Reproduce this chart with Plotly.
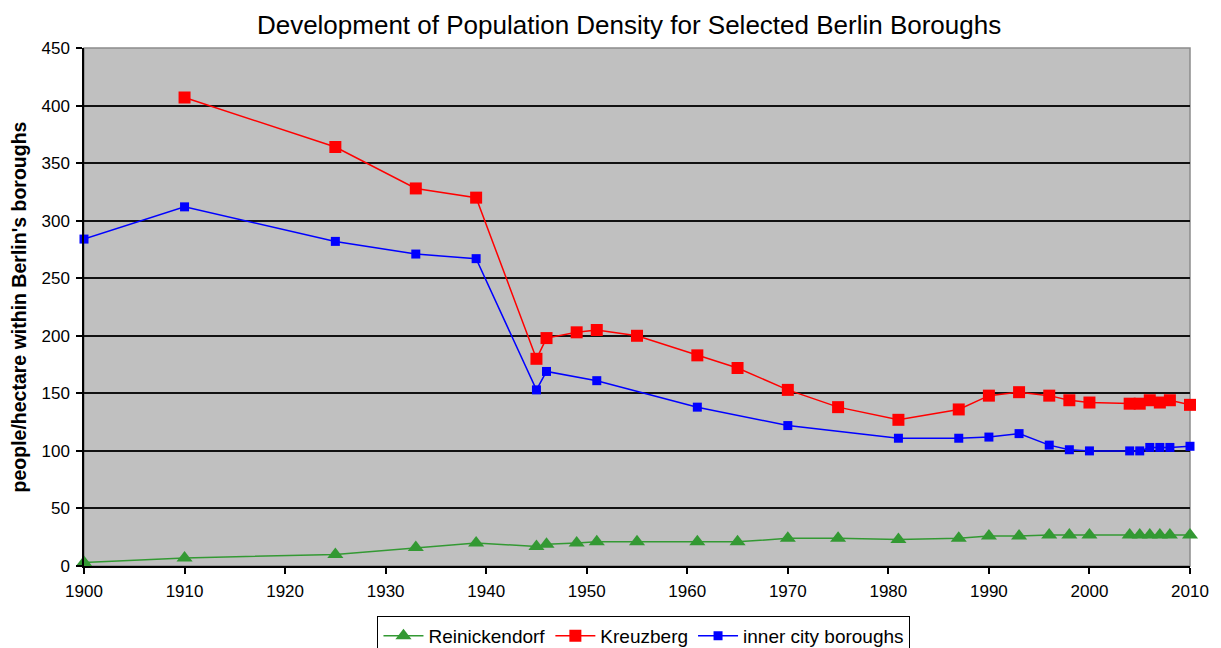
import plotly.graph_objects as go

# ---- data ----
years_reinickendorf = [1900, 1910, 1925, 1933, 1939, 1945, 1946, 1949, 1951, 1955, 1961, 1965,
                       1970, 1975, 1981, 1987, 1990, 1993, 1996, 1998, 2000, 2004, 2005, 2006,
                       2007, 2008, 2010]
reinickendorf = [3, 7, 10, 16, 20, 17, 19, 20, 21, 21, 21, 21,
                 24, 24, 23, 24, 26, 26, 27, 27, 27, 27, 27, 27,
                 27, 27, 27]

years_kreuzberg = [1910, 1925, 1933, 1939, 1945, 1946, 1949, 1951, 1955, 1961, 1965, 1970,
                   1975, 1981, 1987, 1990, 1993, 1996, 1998, 2000, 2004, 2005, 2006, 2007,
                   2008, 2010]
kreuzberg = [407, 364, 328, 320, 180, 198, 203, 205, 200, 183, 172, 153,
             138, 127, 136, 148, 151, 148, 144, 142, 141, 141, 144, 142,
             144, 140]

years_inner = [1900, 1910, 1925, 1933, 1939, 1945, 1946, 1951, 1961, 1970, 1981, 1987,
               1990, 1993, 1996, 1998, 2000, 2004, 2005, 2006, 2007, 2008, 2010]
inner_city = [284, 312, 282, 271, 267, 153, 169, 161, 138, 122, 111, 111,
              112, 115, 105, 101, 100, 100, 100, 103, 103, 103, 104]

x_ticks = [1900, 1910, 1920, 1930, 1940, 1950, 1960, 1970, 1980, 1990, 2000, 2010]
y_ticks = [0, 50, 100, 150, 200, 250, 300, 350, 400, 450]

title_text = "Development of Population Density for Selected Berlin Boroughs"
y_title = "people/hectare within Berlin's boroughs"

FONT = "Liberation Sans, Arial, sans-serif"

fig = go.Figure()
fig.add_trace(go.Scatter(
    x=years_reinickendorf, y=reinickendorf, name="Reinickendorf",
    mode="lines+markers",
    line=dict(color="#339933", width=1.5),
    marker=dict(symbol="triangle-up", size=14, color="#339933"),
    cliponaxis=False,
))
fig.add_trace(go.Scatter(
    x=years_kreuzberg, y=kreuzberg, name="Kreuzberg",
    mode="lines+markers",
    line=dict(color="#ff0000", width=1.5),
    marker=dict(symbol="square", size=12, color="#ff0000"),
    cliponaxis=False,
))
fig.add_trace(go.Scatter(
    x=years_inner, y=inner_city, name="inner city boroughs",
    mode="lines+markers",
    line=dict(color="#0000ff", width=1.5),
    marker=dict(symbol="square", size=9, color="#0000ff"),
    cliponaxis=False,
))

# gray border around plot area (top/right visible)
fig.add_shape(type="rect", xref="paper", yref="paper", x0=0, x1=1, y0=0, y1=1,
              line=dict(color="#8c8c8c", width=1.5), layer="below")

fig.update_layout(
    width=1213, height=640,
    margin=dict(l=76, r=31, t=40, b=82),
    paper_bgcolor="white",
    plot_bgcolor="#c0c0c0",
    font=dict(family=FONT, size=17, color="black"),
    title=dict(text=title_text, x=0.512, xanchor="center", y=0.973, yanchor="middle",
               font=dict(family=FONT, size=26, color="black")),
    showlegend=True,
    legend=dict(orientation="h", xref="container", yref="container",
                x=0.5243, xanchor="center", y=0.05, yanchor="top",
                bordercolor="black", borderwidth=1, bgcolor="white",
                font=dict(family=FONT, size=19), itemwidth=40,
                traceorder="normal"),
    xaxis=dict(range=[1900, 2010], tickmode="array", tickvals=x_ticks,
               showgrid=False, zeroline=False, automargin=False,
               showline=True, linecolor="black", linewidth=1.5,
               ticks="outside", ticklen=6, tickcolor="black", tickwidth=1.5,
               ticklabelstandoff=3,
               tickfont=dict(size=17), fixedrange=True),
    yaxis=dict(range=[0, 450], tickmode="array", tickvals=y_ticks,
               showgrid=True, gridcolor="#111111", gridwidth=1.6,
               zeroline=False, automargin=False,
               showline=True, linecolor="black", linewidth=1.5,
               ticks="outside", ticklen=6, tickcolor="black", tickwidth=1.5,
               ticklabelstandoff=3,
               tickfont=dict(size=17),
               title=dict(text="<b>" + y_title + "</b>",
                          font=dict(family=FONT, size=19.5), standoff=14)),
)

fig.write_html("out.html")
